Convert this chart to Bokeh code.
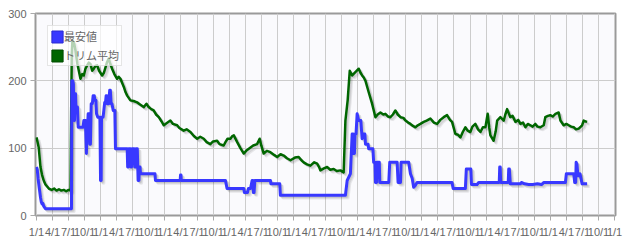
from bokeh.plotting import figure
from bokeh.models import Range1d, FixedTicker, Legend, LegendItem
from bokeh.embed import file_html
from bokeh.resources import INLINE

# x in quarters from the first "1/1" tick
tick_labels = ["1/1", "4/1", "7/1", "10/1"] * 9 + ["1/1"]

green_x = [0.00,0.06,0.14,0.25,0.35,0.45,0.56,0.77,0.95,1.1,1.25,1.4,1.55,1.7,1.85,2.0,2.12,2.16,2.2,2.24,2.35,2.43,2.55,2.74,2.85,2.95,3.05,3.16,3.26,3.36,3.47,3.57,3.67,3.78,3.9,4.09,4.2,4.30,4.4,4.50,4.6,4.71,4.85,5.02,5.12,5.23,5.35,5.44,5.55,5.65,5.85,6.05,6.27,6.45,6.68,6.85,6.99,7.15,7.30,7.45,7.62,7.78,7.93,8.1,8.34,8.5,8.76,8.9,9.17,9.35,9.59,9.8,10.01,10.2,10.42,10.6,10.83,11.0,11.25,11.4,11.66,11.77,11.9,
           12.08,12.2,12.29,12.5,12.7,12.91,13.1,13.33,13.5,13.74,13.9,14.0,14.15,14.35,14.57,14.8,14.99,15.2,15.40,15.6,15.82,16.1,16.33,16.5,16.64,16.85,17.06,17.3,17.48,17.6,17.68,17.9,18.10,18.3,18.51,18.7,18.93,19.13,19.24,19.38,19.51,19.66,19.86,20.07,20.18,20.28,20.38,20.49,20.69,20.90,21.11,21.25,21.42,21.6,21.73,21.9,22.04,22.2,22.35,22.5,22.67,22.85,22.98,23.15,23.29,23.45,23.60,23.75,23.91,
           24.12,24.3,24.53,24.75,24.95,25.15,25.36,25.57,25.75,25.88,26.09,26.25,26.40,26.55,26.71,26.85,27.02,27.15,27.33,27.5,27.65,27.8,27.96,28.10,28.2,28.27,28.47,28.6,28.69,28.89,29.10,29.2,29.31,29.51,29.65,29.83,30.0,30.14,30.3,30.45,30.6,30.76,30.9,31.07,31.2,31.38,31.59,31.69,31.85,32.00,32.15,32.32,32.52,32.63,32.83,33.0,33.15,33.3,33.46,33.6,33.77,33.9,33.98,34.08,34.15,34.29]
green_y = [116,110,101,72,60,52,46,40,38,40,37,39,37,38,36,38,37,150,240,260,255,245,225,203,210,208,218,223,227,225,215,218,222,223,215,208,212,220,228,233,225,218,210,203,206,203,196,191,183,178,171,170,168,165,161,166,161,158,156,150,146,140,134,137,141,136,134,130,126,128,124,118,114,117,114,109,106,110,111,106,104,109,114,
           114,118,119,109,100,92,97,101,104,106,114,104,92,96,94,90,87,91,89,85,82,86,87,82,79,76,74,79,77,72,67,70,72,68,69,66,67,64,141,171,215,208,213,218,212,208,205,200,183,166,146,150,153,150,151,147,146,150,156,150,146,145,141,138,136,133,131,134,136,
           139,141,144,138,136,142,146,149,142,139,121,120,116,124,131,126,124,132,136,128,124,131,131,151,130,119,111,125,141,146,141,150,158,146,148,139,142,136,138,131,136,134,132,136,132,131,134,146,148,149,147,151,153,141,134,136,134,132,131,128,129,132,134,141,140,139]

blue_x = [0.00,0.05,0.10,0.14,0.25,0.30,0.35,0.40,0.45,0.56,2.18,2.20,2.26,2.30,2.33,2.37,2.40,2.43,2.46,2.55,2.60,2.90,2.95,3.05,3.11,3.16,3.19,3.22,3.28,3.32,3.36,3.41,3.48,3.53,3.60,3.64,3.70,3.74,3.82,3.95,3.99,4.03,4.05,4.15,4.25,4.30,4.34,4.38,4.40,4.50,4.56,4.60,4.65,4.70,4.78,4.88,4.92,5.65,5.68,5.72,5.75,5.85,5.88,5.92,5.96,6.08,6.12,6.16,6.20,6.28,6.33,6.38,6.41,6.45,6.48,7.38,7.41,8.95,8.97,9.0,9.02,11.77,11.87,12.91,12.95,13.14,13.20,13.33,13.43,13.48,13.51,13.55,13.60,14.57,14.60,15.15,15.19,19.24,19.35,19.55,19.66,19.72,19.76,19.80,19.84,19.90,19.97,20.07,20.20,20.28,20.35,20.45,20.49,20.65,20.69,20.95,21.00,21.08,21.11,21.18,21.21,21.35,21.38,21.94,22.00,22.46,22.52,22.67,22.71,23.18,23.29,23.4,23.49,23.60,23.70,25.88,25.95,26.71,26.77,27.05,27.09,27.44,27.54,28.82,28.85,28.88,28.91,29.38,29.41,29.45,29.51,30.14,30.2,30.4,30.65,30.9,31.2,31.45,31.6,32.94,33.00,33.46,33.52,33.58,33.61,33.66,33.72,33.77,33.85,33.98,34.29]
blue_y = [72,68,55,47,27,20,17,18,14,10,10,200,200,195,141,141,181,181,161,161,131,131,141,141,92,136,136,151,151,106,106,166,166,178,178,171,171,151,146,146,52,52,146,146,168,168,178,178,166,166,186,186,166,166,156,156,99,99,72,72,99,99,72,72,99,99,72,72,99,99,52,52,72,72,62,62,52,52,60,60,52,52,40,40,34,34,40,40,52,52,34,34,52,52,47,47,30,30,52,62,121,121,92,92,121,121,151,141,141,114,121,121,106,106,99,99,79,79,49,49,79,79,49,49,79,79,49,49,79,79,62,55,42,45,49,49,40,40,69,69,46,46,49,49,72,72,49,49,69,69,47,47,49,47,46,46,47,46,49,49,62,62,49,49,79,76,59,59,62,47,47]

series_names = ["最安値", "トリム平均"]
series_colors = ["#3838ff", "#006600"]

W, H = 632, 245
BL, BR, BT, BB = 35, 17, 13, 30
x0, x1 = -0.06, 36.06
y0, y1 = 0, 300

p = figure(width=W, height=H, output_backend="svg", toolbar_location=None,
           x_range=Range1d(x0, x1), y_range=Range1d(y0, y1),
           min_border_left=BL, min_border_right=BR, min_border_top=BT, min_border_bottom=BB)
p.background_fill_color = "#fafafd"
p.border_fill_color = "white"
p.outline_line_color = "#9a9a9a"
p.outline_line_width = 2

p.xaxis.ticker = FixedTicker(ticks=list(range(len(tick_labels))))
p.xaxis.major_label_overrides = {i: t for i, t in enumerate(tick_labels)}
p.yaxis.ticker = FixedTicker(ticks=[0, 100, 200, 300])
for ax in (p.xaxis, p.yaxis):
    ax.axis_line_color = None
    ax.major_tick_line_color = "#aaaaaa"
    ax.major_tick_in = 0
    ax.major_tick_out = 5
    ax.minor_tick_line_color = None
    ax.major_label_text_color = "#666666"
    ax.major_label_text_font = "Liberation Sans"
    ax.major_label_text_font_size = "11px"
p.xaxis.major_label_standoff = 5
p.yaxis.major_label_standoff = 4
p.xgrid.ticker = FixedTicker(ticks=list(range(len(tick_labels))))
p.ygrid.ticker = FixedTicker(ticks=[100, 200])
p.grid.grid_line_color = "#cccccc"
p.grid.grid_line_width = 1

# shadows (jqplot-like): offset by ~0.9px steps right/down
fw, fh = W - BL - BR, H - BT - BB
px_x = fw / (x1 - x0)
px_y = fh / (y1 - y0)
for xs, ys, lw in ((green_x, green_y, 2.5), (blue_x, blue_y, 3)):
    for k in (1, 2, 3):
        dx = k * 0.9 / px_x
        dy = k * 0.9 / px_y
        p.line([v + dx for v in xs], [v - dy for v in ys], line_color="black",
               line_alpha=0.08, line_width=lw, line_join="round")

p.line(green_x, green_y, line_color=series_colors[1], line_width=2.5, line_join="round")
p.line(blue_x, blue_y, line_color=series_colors[0], line_width=3, line_join="round")

nan = float("nan")
sw1 = p.quad(left=[nan], right=[nan], top=[nan], bottom=[nan],
             fill_color=series_colors[0], line_color="#2a2ad0")
sw2 = p.quad(left=[nan], right=[nan], top=[nan], bottom=[nan],
             fill_color=series_colors[1], line_color="#004a00")
legend = Legend(items=[LegendItem(label=series_names[0], renderers=[sw1]),
                       LegendItem(label=series_names[1], renderers=[sw2])],
                location="top_left", margin=12, padding=2, spacing=3,
                glyph_width=14, glyph_height=15, label_height=14, label_standoff=0,
                label_text_font="Noto Sans CJK JP", label_text_font_size="11px",
                label_text_color="#666666", border_line_color="#cccccc",
                background_fill_color="white", background_fill_alpha=0.7)
p.add_layout(legend, "center")

open("out.html", "w").write(file_html(p, INLINE))
